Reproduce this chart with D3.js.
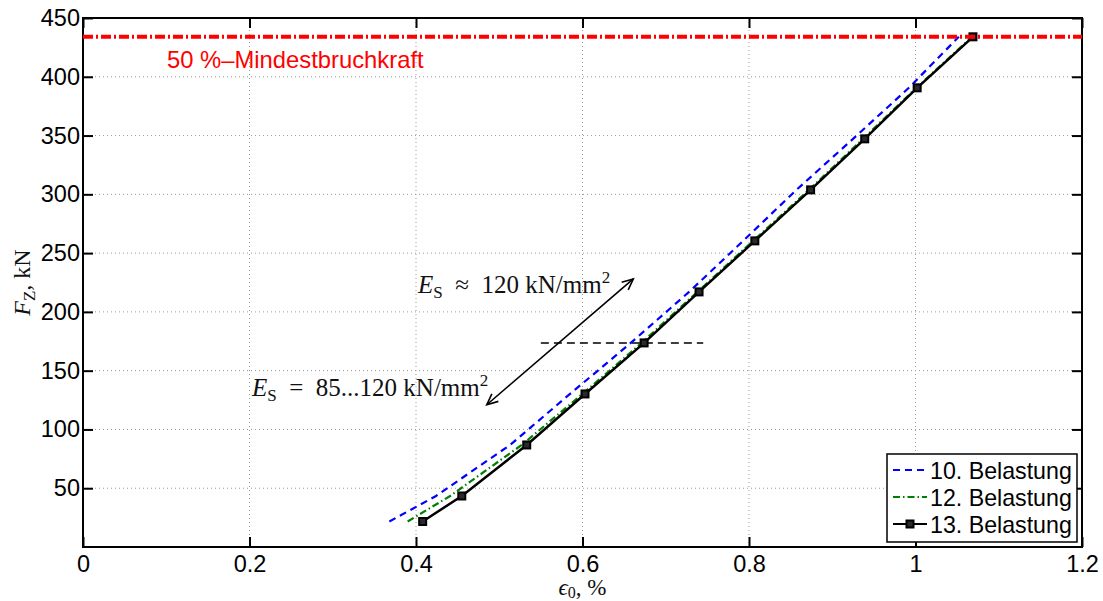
<!DOCTYPE html>
<html>
<head>
<meta charset="utf-8">
<script src="https://cdn.jsdelivr.net/npm/d3@7"></script>
<style>
  html, body { margin: 0; padding: 0; background: #fff; }
  svg { display: block; }
</style>
</head>
<body>
<svg id="chart" width="1103" height="601"></svg>
<script>
// Force levels (kN) at which the strain was recorded
const forceLevels = [21.7, 43.4, 86.8, 130.2, 173.6, 217.0, 260.4, 303.8, 347.2, 390.6, 434.0];
// Strain (%) for each loading cycle
const strain10 = [0.368, 0.424, 0.513, 0.585, 0.658, 0.728, 0.793, 0.857, 0.925, 0.992, 1.052];
const strain12 = [0.390, 0.441, 0.527, 0.600, 0.671, 0.738, 0.805, 0.872, 0.937, 1.001, 1.068];
const strain13 = [0.408, 0.455, 0.533, 0.603, 0.674, 0.740, 0.807, 0.874, 0.939, 1.002, 1.069];
const seriesNames = ["10. Belastung", "12. Belastung", "13. Belastung"];

// Minimum breaking force line (50 %)
const minBreakForce = 434;
// Stiffness annotation: double arrow and reference line
const arrowPts = [[0.485, 121], [0.661, 228]];
const refLine = [[0.55, 173.6], [0.745, 173.6]];

const xTicks = [0, 0.2, 0.4, 0.6, 0.8, 1.0, 1.2];
const xTickLabels = ["0", "0.2", "0.4", "0.6", "0.8", "1", "1.2"];
const yTicks = [50, 100, 150, 200, 250, 300, 350, 400, 450];

const svg = d3.select("#chart");
const L = 83, R = 1082, T = 18, B = 547;
const x = d3.scaleLinear().domain([0, 1.2]).range([L, R]);
const y = d3.scaleLinear().domain([0, 450]).range([B, T]);

const SANS = "'Liberation Sans', Arial, Helvetica, sans-serif";
const SERIF = "'Liberation Serif', 'Times New Roman', serif";

// Grid
const grid = svg.append("g");
grid.selectAll("line.gx").data(xTicks.filter(d => d > 0 && d < 1.2)).join("line")
  .attr("x1", d => x(d)).attr("x2", d => x(d)).attr("y1", T).attr("y2", B)
  .attr("stroke", "#9a9a9a").attr("stroke-width", 1).attr("stroke-dasharray", "1,3");
grid.selectAll("line.gy").data(yTicks.filter(d => d < 450)).join("line")
  .attr("y1", d => y(d)).attr("y2", d => y(d)).attr("x1", L).attr("x2", R)
  .attr("stroke", "#9a9a9a").attr("stroke-width", 1).attr("stroke-dasharray", "1,3");

// Axes with inward ticks on all four sides
const tickLen = 10;
const axes = svg.append("g");
axes.append("g").attr("transform", `translate(0,${B})`)
  .call(d3.axisBottom(x).tickValues(xTicks).tickSize(-tickLen).tickFormat((d, i) => xTickLabels[i]).tickPadding(8));
axes.append("g").attr("transform", `translate(0,${T})`)
  .call(d3.axisTop(x).tickValues(xTicks).tickSize(-tickLen).tickFormat(""));
axes.append("g").attr("transform", `translate(${L},0)`)
  .call(d3.axisLeft(y).tickValues(yTicks).tickSize(-tickLen).tickFormat(d3.format("d")).tickPadding(3));
axes.append("g").attr("transform", `translate(${R},0)`)
  .call(d3.axisRight(y).tickValues(yTicks).tickSize(-tickLen).tickFormat(""));
axes.selectAll(".domain").remove();
axes.selectAll(".tick line").attr("stroke", "#000").attr("stroke-width", 2);
axes.selectAll(".tick text").attr("font-family", SANS).attr("font-size", 23.5).attr("fill", "#000");
svg.append("rect").attr("x", L).attr("y", T).attr("width", R - L).attr("height", B - T)
  .attr("fill", "none").attr("stroke", "#000").attr("stroke-width", 2);

// Reference line and stiffness arrow
const line = d3.line().x(d => x(d[0])).y(d => y(d[1]));
svg.append("path").datum(refLine).attr("d", line)
  .attr("fill", "none").attr("stroke", "#000").attr("stroke-width", 1.5).attr("stroke-dasharray", "8,5");

const defs = svg.append("defs");
["s", "e"].forEach(k => {
  defs.append("marker").attr("id", "arr" + k)
    .attr("viewBox", "-12 -7 14 14").attr("refX", 0).attr("refY", 0)
    .attr("markerWidth", 14).attr("markerHeight", 14).attr("markerUnits", "userSpaceOnUse")
    .attr("orient", k === "s" ? "auto-start-reverse" : "auto")
    .append("path").attr("d", "M-11,-5 L0,0 L-11,5").attr("fill", "none")
    .attr("stroke", "#000").attr("stroke-width", 1.6);
});
svg.append("path").datum(arrowPts).attr("d", line)
  .attr("fill", "none").attr("stroke", "#000").attr("stroke-width", 1.6)
  .attr("marker-start", "url(#arrs)").attr("marker-end", "url(#arre)");

// Curves
const pts = s => s.map((v, i) => [v, forceLevels[i]]);
svg.append("path").datum(pts(strain10)).attr("d", line)
  .attr("fill", "none").attr("stroke", "#0000ff").attr("stroke-width", 2.2).attr("stroke-dasharray", "7,5");
svg.append("path").datum(pts(strain12)).attr("d", line)
  .attr("fill", "none").attr("stroke", "#008000").attr("stroke-width", 2.2).attr("stroke-dasharray", "7,3,1.5,3");
svg.append("path").datum(pts(strain13)).attr("d", line)
  .attr("fill", "none").attr("stroke", "#000").attr("stroke-width", 2.5);
svg.selectAll("rect.mk").data(pts(strain13)).join("rect").attr("class", "mk")
  .attr("x", d => x(d[0]) - 3.5).attr("y", d => y(d[1]) - 3.5)
  .attr("width", 7).attr("height", 7)
  .attr("fill", "#2a2a2a").attr("stroke", "#000").attr("stroke-width", 2);

// Minimum breaking force
svg.append("line").attr("x1", L).attr("x2", R)
  .attr("y1", y(minBreakForce)).attr("y2", y(minBreakForce))
  .attr("stroke", "#ff0000").attr("stroke-width", 4).attr("stroke-dasharray", "10,3,2,3");
svg.append("text").attr("x", 167).attr("y", 68)
  .attr("font-family", SANS).attr("font-size", 23.8).attr("fill", "#ff0000")
  .text("50 %\u2013Mindestbruchkraft");

// Annotations (math style)
function mathText(xp, yp, rel, num) {
  const t = svg.append("text").attr("x", xp).attr("y", yp)
    .attr("font-family", SERIF).attr("font-size", 25).attr("fill", "#111");
  t.append("tspan").attr("font-style", "italic").text("E");
  t.append("tspan").attr("font-size", 17).attr("dy", 5).text("S");
  t.append("tspan").attr("dy", -5).text("\u2002" + rel + "\u2002" + num + " kN/mm");
  t.append("tspan").attr("font-size", 17).attr("dy", -10).text("2");
}
mathText(418, 293, "\u2248", "120");
mathText(252, 396, "=", "85...120");

// Axis titles
const xl = svg.append("text").attr("x", (L + R) / 2).attr("y", 595).attr("text-anchor", "middle")
  .attr("font-family", SERIF).attr("font-size", 23).attr("fill", "#111");
xl.append("tspan").attr("font-style", "italic").text("\u03F5");
xl.append("tspan").attr("font-size", 16).attr("dy", 3).text("0");
xl.append("tspan").attr("dy", -3).text(", %");

const yl = svg.append("text").attr("transform", `translate(30,${(T + B) / 2}) rotate(-90)`)
  .attr("text-anchor", "middle")
  .attr("font-family", SERIF).attr("font-size", 24).attr("fill", "#111");
yl.append("tspan").attr("font-style", "italic").text("F");
yl.append("tspan").attr("font-size", 17).attr("dy", 5).text("Z");
yl.append("tspan").attr("dy", -5).text(", kN");

// Legend
const lg = svg.append("g");
lg.append("rect").attr("x", 887).attr("y", 454).attr("width", 190).attr("height", 88)
  .attr("fill", "#fff").attr("stroke", "#000").attr("stroke-width", 1.5);
const styles = [
  { c: "#0000ff", dash: "7,5", mk: false },
  { c: "#008000", dash: "7,3,1.5,3", mk: false },
  { c: "#000", dash: null, mk: true }
];
seriesNames.forEach((name, i) => {
  const cy = 470 + i * 27;
  const s = styles[i];
  lg.append("line").attr("x1", 893).attr("x2", 927).attr("y1", cy).attr("y2", cy)
    .attr("stroke", s.c).attr("stroke-width", 2.2).attr("stroke-dasharray", s.dash);
  if (s.mk) lg.append("rect").attr("x", 906.5).attr("y", cy - 3.5).attr("width", 7).attr("height", 7)
    .attr("fill", "#2a2a2a").attr("stroke", "#000").attr("stroke-width", 2);
  lg.append("text").attr("x", 930).attr("y", cy + 8.5)
    .attr("font-family", SANS).attr("font-size", 23.2).attr("fill", "#000").text(name);
});
</script>
</body>
</html>
